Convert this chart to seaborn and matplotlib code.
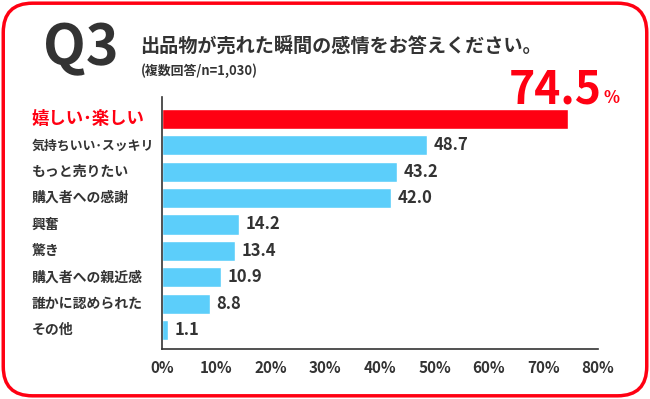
import seaborn as sns
import matplotlib.pyplot as plt
import pandas as pd
from matplotlib.patches import FancyBboxPatch

categories = ['嬉しい･楽しい', '気持ちいい･スッキリ', 'もっと売りたい', '購入者への感謝', '興奮',
              '驚き', '購入者への親近感', '誰かに認められた', 'その他']
values = [74.5, 48.7, 43.2, 42.0, 14.2, 13.4, 10.9, 8.8, 1.1]
ticks = [0, 10, 20, 30, 40, 50, 60, 70, 80]

RED = '#FF0012'
BLUE = '#5CCEFA'
DARK = '#333333'

df = pd.DataFrame({'cat': categories, 'val': values})

sns.set_theme(style='white')
plt.rcParams['font.family'] = ['Noto Sans CJK JP', 'DejaVu Sans']

fig = plt.figure(figsize=(6.5, 3.99), dpi=100)
ax = fig.add_axes([0.249, 0.125, 0.671, 0.632])

palette = [RED] + [BLUE] * (len(categories) - 1)
sns.barplot(data=df, x='val', y='cat', hue='cat', palette=palette, legend=False,
            orient='h', width=0.76, ax=ax, saturation=1)

ax.set_xlim(0, 80)
ax.set_ylim(8.72, -0.83)
ax.set_xticks(ticks)
ax.set_xticklabels([f'{t}%' for t in ticks], fontsize=11, color=DARK, fontweight='bold')
ax.tick_params(axis='x', length=0, pad=8)
ax.tick_params(axis='y', length=0, pad=0)
ax.set_yticks(range(len(categories)))
ax.set_yticklabels([])
ax.set_xlabel('')
ax.set_ylabel('')
for s in ['top', 'right']:
    ax.spines[s].set_visible(False)
for s in ['left', 'bottom']:
    ax.spines[s].set_color(DARK)
    ax.spines[s].set_linewidth(1.2)

# category labels (left aligned, long one squeezed a bit to fit like the proportional original)
for i, c in enumerate(categories):
    if i == 0:
        ax.text(-0.298, i, c, transform=ax.get_yaxis_transform(), fontsize=12.5,
                fontweight='bold', color=RED, va='center', ha='left')
    else:
        fs = 9.3 if len(c) > 9 else 10
        ax.text(-0.298, i, c, transform=ax.get_yaxis_transform(), fontsize=fs,
                fontweight='bold', color=DARK, va='center', ha='left')
        ax.text(values[i] + 1.2, i, f'{values[i]:.1f}', fontsize=12, fontweight='bold',
                color=DARK, va='center', ha='left')

# big value for first bar
fig.text(0.926, 1 - 103 / 399, f'{values[0]}', fontsize=32, fontweight='bold', color=RED,
         ha='right', va='baseline')
fig.text(0.928, 1 - 103 / 399, '%', fontsize=12, fontweight='bold', color=RED,
         ha='left', va='baseline')

# titles
fig.text(0.066, 1 - 48 / 399, 'Q3', fontsize=40, fontweight='bold', color=DARK, va='center')
fig.text(0.216, 1 - 46 / 399, '出品物が売れた瞬間の感情をお答えください。', fontsize=13.8,
         fontweight='bold', color=DARK, va='center')
fig.text(0.216, 1 - 71 / 399, '(複数回答/n=1,030)', fontsize=9.3, fontweight='bold',
         color=DARK, va='center')

# rounded red border
border = FancyBboxPatch((0.005, 0.008), 0.99, 0.984, boxstyle='round,pad=0,rounding_size=0.045',
                        transform=fig.transFigure, fill=False, edgecolor=RED, linewidth=2.5,
                        mutation_aspect=650 / 399)
fig.patches.append(border)

fig.savefig('out.png', dpi=100)
